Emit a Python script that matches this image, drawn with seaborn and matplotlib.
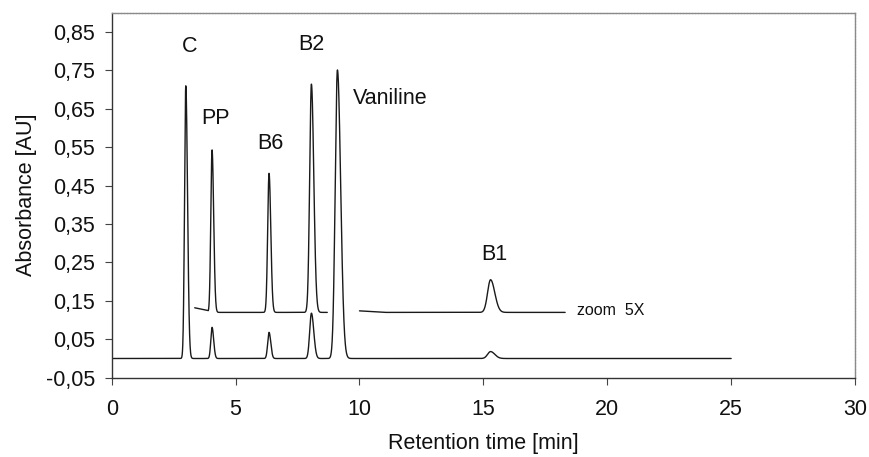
import numpy as np
import pandas as pd
import matplotlib
matplotlib.use("Agg")
import matplotlib.pyplot as plt
import seaborn as sns

# ---------------- data ----------------
peak_names = ["C", "PP", "B6", "B2", "Vaniline", "B1"]
peak_times = [2.99, 4.05, 6.35, 8.06, 9.11, 15.29]          # min
lower_heights = [0.710, 0.081, 0.068, 0.118, 0.751, 0.018]  # AU above baseline 0
sigma_left = [0.050, 0.050, 0.055, 0.070, 0.090, 0.120]
sigma_right = [0.070, 0.065, 0.070, 0.095, 0.130, 0.170]

# zoom 5X trace (baseline 0.12)
upper_names = ["PP", "B6", "B2", "B1"]
upper_times = [4.05, 6.35, 8.06, 15.29]
upper_heights = [0.423, 0.362, 0.594, 0.085]
upper_sigma_left = [0.050, 0.055, 0.070, 0.120]
upper_sigma_right = [0.065, 0.070, 0.095, 0.170]

lower_baseline = 0.0
upper_baseline = 0.12
lower_range = [0.0, 25.0]
upper_segments = [[3.9, 8.7], [11.0, 18.3]]
upper_segment_lead_t = [3.35, 10.0]     # start of each zoom segment (drifting start)
upper_segment_lead_v = [0.132, 0.124]

label_texts = ["C", "PP", "B6", "B2", "Vaniline", "B1"]
label_t = [3.15, 4.17, 6.39, 8.07, 9.75, 15.45]
label_v = [0.812, 0.625, 0.559, 0.816, 0.678, 0.27]

x_ticks = [0, 5, 10, 15, 20, 25, 30]
y_ticks = [-0.05, 0.05, 0.15, 0.25, 0.35, 0.45, 0.55, 0.65, 0.75, 0.85]
y_tick_labels = ["-0,05", "0,05", "0,15", "0,25", "0,35", "0,45", "0,55", "0,65", "0,75", "0,85"]


def trace(t, base, centers, heights, sl, sr):
    y = np.full_like(t, base, dtype=float)
    for c, h, a, b in zip(centers, heights, sl, sr):
        s = np.where(t < c, a, b)
        y += h * np.exp(-0.5 * ((t - c) / s) ** 2)
    return y


sns.set_theme(style="white")
plt.rcParams["font.family"] = ["Liberation Sans", "DejaVu Sans"]

FS = 15.5
fig = plt.figure(figsize=(8.7, 4.57), dpi=100)
ax = fig.add_axes([0.1284, 0.1735, 0.8544, 0.7987])

line_kw = dict(color="#1a1a1a", linewidth=1.0, estimator=None, sort=False, ax=ax)

# lower trace
t_low = np.arange(lower_range[0], lower_range[1] + 1e-9, 0.004)
y_low = trace(t_low, lower_baseline, peak_times, lower_heights, sigma_left, sigma_right)
sns.lineplot(x=t_low, y=y_low, **line_kw)

# upper (zoom 5X) trace segments
for (a, b), lt, lv in zip(upper_segments, upper_segment_lead_t, upper_segment_lead_v):
    t_seg = np.arange(a, b + 1e-9, 0.004)
    y_seg = trace(t_seg, upper_baseline, upper_times, upper_heights,
                  upper_sigma_left, upper_sigma_right)
    t_seg = np.concatenate([[lt], t_seg])
    y_seg = np.concatenate([[lv], y_seg])
    sns.lineplot(x=t_seg, y=y_seg, **line_kw)

for txt, tx, ty in zip(label_texts, label_t, label_v):
    ha = "left" if txt == "Vaniline" else "center"
    ax.text(tx, ty, txt, ha=ha, va="center", fontsize=FS, color="#111111")
ax.text(18.76, 0.126, "zoom  5X", ha="left", va="center", fontsize=11.5, color="#111111")

ax.set_xlim(0, 30)
ax.set_ylim(-0.05, 0.9)
ax.set_xticks(x_ticks)
ax.set_xticklabels([str(v) for v in x_ticks])
ax.set_yticks(y_ticks)
ax.set_yticklabels(y_tick_labels)
ax.tick_params(axis="both", which="major", bottom=True, left=True, direction="out",
               length=5, width=0.8, color="#444444", labelsize=FS, labelcolor="#111111")
ax.tick_params(axis="x", pad=10)
ax.tick_params(axis="y", pad=7)

ax.set_xlabel("Retention time [min]", fontsize=FS, color="#111111")
ax.set_ylabel("Absorbance [AU]", fontsize=FS, color="#111111")
ax.xaxis.set_label_coords(0.5, -0.152)
ax.yaxis.set_label_coords(-0.1, 0.5)

for side in ["left", "bottom"]:
    ax.spines[side].set_color("#333333")
    ax.spines[side].set_linewidth(1.0)
for side in ["top", "right"]:
    ax.spines[side].set_color("#8a8a8a")
    ax.spines[side].set_linewidth(1.0)
    ax.spines[side].set_linestyle((0, (1.5, 0.7)))
for s in ax.spines.values():
    s.set_visible(True)

fig.savefig("out.png", dpi=100)
